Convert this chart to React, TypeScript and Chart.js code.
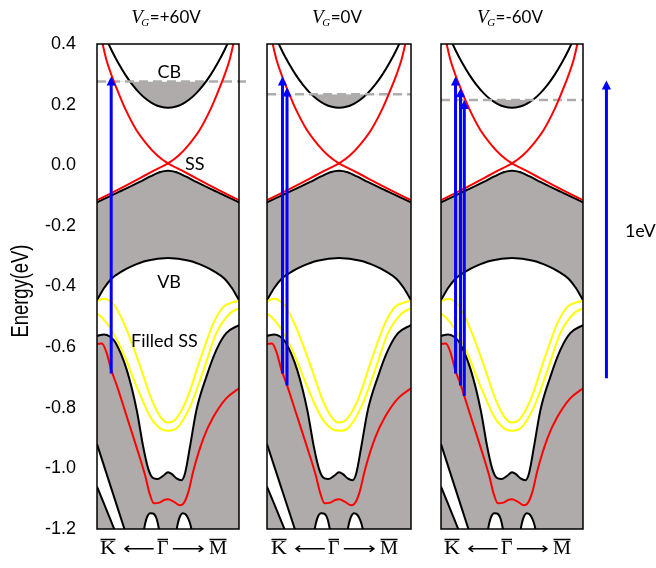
import React, { useEffect, useRef } from "react";
import { Chart, registerables } from "chart.js";

Chart.register(...registerables);
Chart.defaults.font.family = "'Liberation Sans', Arial, sans-serif";
Chart.defaults.color = "#000";

const GRAY = "#AFABAB";
const BLUE = "#0000FF";
const RED = "#FF0000";
const YELLOW = "#FFFF00";
const DASH_GRAY = "#ADADAD";

// energy axis (eV) and momentum axis (K̄ = -1, Γ̄ = 0, M̄ = 1)
const E_MIN = -1.2;
const E_MAX = 0.4;
const yTickValues = [0.4, 0.2, 0.0, -0.2, -0.4, -0.6, -0.8, -1.0, -1.2];
const yTitle = "Energy(eV)";
const yTitleE = -0.415;

// panels
const gateVoltages = ["+60V", "0V", "-60V"];
const fermiLevels = [0.276, 0.234, 0.215];
const fermiLineEnd = [1.12, 1, 1];

// optical transitions per panel
const arrowK = [[-0.8], [-0.785, -0.722], [-0.795, -0.725, -0.672]];
const arrowFrom = [[-0.687], [-0.687, -0.727], [-0.687, -0.727, -0.761]];
const arrowTo = [[0.283], [0.283, 0.247], [0.283, 0.244, 0.205]];
// 1 eV scale arrow
const scaleArrowK = 1.33;
const scaleArrowFrom = -0.703;
const scaleArrowTo = 0.27;

// conduction band
const cbK = [-0.9, -0.8, -0.7, -0.6, -0.5, -0.4, -0.3, -0.2, -0.1, 0, 0.1, 0.2, 0.3, 0.4, 0.5, 0.6, 0.7, 0.8, 0.9];
const cbE = [0.433, 0.382, 0.337, 0.298, 0.265, 0.238, 0.217, 0.202, 0.193, 0.19, 0.193, 0.202, 0.217, 0.238, 0.265, 0.298, 0.337, 0.382, 0.433];

// topological surface state (Dirac cone)
const ss1K = [-0.94, -0.87, -0.8, -0.7, -0.6, -0.45, -0.3, -0.15, 0, 0.2, 0.4, 0.6, 0.8, 1.0];
const ss1E = [0.42, 0.35, 0.3, 0.24, 0.185, 0.118, 0.07, 0.032, 0.006, -0.018, -0.043, -0.068, -0.092, -0.115];
const ss2K = [-1.0, -0.8, -0.6, -0.4, -0.2, 0, 0.15, 0.3, 0.45, 0.6, 0.7, 0.8, 0.87, 0.94];
const ss2E = [-0.115, -0.092, -0.068, -0.043, -0.018, 0.006, 0.032, 0.07, 0.118, 0.185, 0.24, 0.3, 0.35, 0.42];

// valence band top
const vbTopK = [-1, -0.8, -0.6, -0.4, -0.25, -0.12, 0, 0.12, 0.25, 0.4, 0.6, 0.8, 1];
const vbTopE = [-0.122, -0.1, -0.078, -0.055, -0.037, -0.023, -0.018, -0.023, -0.037, -0.055, -0.078, -0.1, -0.122];

// valence band lower edge (dome)
const domeK = [-1, -0.9, -0.8, -0.65, -0.5, -0.3, 0, 0.3, 0.5, 0.65, 0.8, 0.9, 1];
const domeE = [-0.445, -0.405, -0.375, -0.35, -0.332, -0.315, -0.306, -0.315, -0.332, -0.35, -0.375, -0.405, -0.445];

// filled surface states (yellow)
const yelUpK = [-1, -0.94, -0.88, -0.8, -0.74, -0.58, -0.39, -0.21, -0.08, 0, 0.1, 0.26, 0.45, 0.64, 0.78, 0.9, 1];
const yelUpE = [-0.45, -0.442, -0.44, -0.452, -0.467, -0.544, -0.665, -0.785, -0.838, -0.849, -0.84, -0.775, -0.643, -0.521, -0.467, -0.453, -0.447];
const yelLoK = [-1, -0.92, -0.81, -0.63, -0.44, -0.25, -0.11, 0, 0.12, 0.31, 0.5, 0.68, 0.87, 1];
const yelLoE = [-0.489, -0.505, -0.538, -0.62, -0.731, -0.83, -0.868, -0.876, -0.868, -0.797, -0.676, -0.554, -0.489, -0.472];

// lower band edge (W shape)
const lwK = [-1, -0.9, -0.82, -0.74, -0.58, -0.44, -0.35, -0.28, -0.22, -0.15, -0.07, 0, 0.06, 0.12, 0.19, 0.24, 0.31, 0.4, 0.54, 0.68, 0.82, 1];
const lwE = [-0.563, -0.558, -0.565, -0.585, -0.676, -0.808, -0.928, -1.0, -1.03, -1.035, -1.025, -1.013, -1.02, -1.033, -1.039, -1.016, -0.928, -0.808, -0.698, -0.61, -0.554, -0.527];

// lower surface state (red)
const rlK = [-1, -0.93, -0.87, -0.8, -0.72, -0.6, -0.45, -0.32, -0.26, -0.2, -0.12, -0.05, 0, 0.08, 0.17, 0.23, 0.29, 0.36, 0.5, 0.64, 0.82, 1];
const rlE = [-0.59, -0.588, -0.615, -0.675, -0.727, -0.815, -0.925, -1.025, -1.082, -1.115, -1.113, -1.104, -1.102, -1.11, -1.122, -1.112, -1.075, -1.005, -0.9, -0.83, -0.769, -0.736];

// deep bands, lower-left gap
const gapAK = [-1, -0.8, -0.6];
const gapAE = [-0.92, -1.065, -1.21];
const gapBK = [-1, -0.74, -0.6];
const gapBE = [-1.06, -1.21, -1.29];

// deep bands, arches near Γ
const archLK = [-0.345, -0.32, -0.29, -0.25, -0.21, -0.17, -0.145, -0.12];
const archLE = [-1.21, -1.18, -1.158, -1.148, -1.149, -1.16, -1.18, -1.21];
const archRK = [0.115, 0.14, 0.17, 0.21, 0.25, 0.29, 0.315, 0.34];
const archRE = [-1.21, -1.18, -1.158, -1.148, -1.152, -1.168, -1.185, -1.21];

// labels inside the first panel
const bandLabels = ["CB", "SS", "VB", "Filled SS"];
const bandLabelK = [0.02, 0.24, 0.015, -0.05];
const bandLabelE = [0.287, -0.016, -0.406, -0.599];
const bandLabelAlign = ["center", "left", "center", "center"];
const scaleLabel = "1eV";
const scaleLabelK = 1.59;
const scaleLabelE = -0.238;

const kLetters = ["K", "Γ", "M"];
const kArrows = ["⟵", "⟶"];

const toPts = (k: number[], e: number[]) => k.map((x, i) => ({ x, y: e[i] }));

function curve(k: number[], e: number[], color: string, width: number, extra: any = {}) {
  return {
    data: toPts(k, e),
    borderColor: color,
    borderWidth: width,
    pointRadius: 0,
    cubicInterpolationMode: "monotone",
    borderJoinStyle: "round",
    fill: false,
    ...extra,
  };
}

function arrowSet(k: number, from: number, to: number, extra: any = {}) {
  return {
    data: [{ x: k, y: from }, { x: k, y: to }],
    borderColor: BLUE,
    borderWidth: 3,
    borderCapStyle: "butt",
    pointRadius: 0,
    fill: false,
    ...extra,
  };
}

function buildDatasets(p: number) {
  const ds: any[] = [];
  const arrowIdx: number[] = [];
  arrowK[p].forEach((k, i) => {
    arrowIdx.push(ds.length);
    ds.push(arrowSet(k, arrowFrom[p][i], arrowTo[p][i]));
  });
  if (p === 2) {
    arrowIdx.push(ds.length);
    ds.push(arrowSet(scaleArrowK, scaleArrowFrom, scaleArrowTo, { clip: false }));
  }
  ds.push(curve(ss1K, ss1E, RED, 2));
  ds.push(curve(ss2K, ss2E, RED, 2));
  ds.push(curve(rlK, rlE, RED, 2));
  ds.push(curve(yelUpK, yelUpE, YELLOW, 2));
  ds.push(curve(yelLoK, yelLoE, YELLOW, 2));
  ds.push({
    data: [{ x: -1, y: fermiLevels[p] }, { x: fermiLineEnd[p], y: fermiLevels[p] }],
    borderColor: DASH_GRAY,
    borderWidth: 2.5,
    borderDash: [9, 5],
    pointRadius: 0,
    fill: false,
    ...(p === 0 ? { clip: false } : {}),
  });
  ds.push(curve(gapAK, gapAE, "#000", 2, { fill: "+1", backgroundColor: "#FFFFFF" }));
  ds.push(curve(gapBK, gapBE, "#000", 2));
  ds.push(curve(archLK, archLE, "#000", 2, { fill: "start", backgroundColor: "#FFFFFF" }));
  ds.push(curve(archRK, archRE, "#000", 2, { fill: "start", backgroundColor: "#FFFFFF" }));
  ds.push(curve(cbK, cbE, "#000", 2, {
    fill: { target: { value: fermiLevels[p] }, above: "rgba(0,0,0,0)", below: GRAY },
  }));
  ds.push(curve(vbTopK, vbTopE, "#000", 2, { fill: "+1", backgroundColor: GRAY }));
  ds.push(curve(domeK, domeE, "#000", 2));
  ds.push(curve(lwK, lwE, "#000", 2, { fill: "start", backgroundColor: GRAY }));
  return { ds, arrowIdx };
}

function decorPlugin(p: number, arrowIdx: number[]) {
  return {
    id: "decor",
    afterDatasetsDraw(chart: any) {
      const { ctx, chartArea: a, scales } = chart;
      const xs = scales.x;
      const ys = scales.y;
      ctx.save();
      // arrow heads
      ctx.fillStyle = BLUE;
      for (const i of arrowIdx) {
        const pts = chart.getDatasetMeta(i).data;
        const tip = pts[pts.length - 1];
        const tx = tip.x;
        const ty = tip.y - 3;
        ctx.beginPath();
        ctx.moveTo(tx, ty);
        ctx.lineTo(tx - 4.6, ty + 9);
        ctx.lineTo(tx + 4.6, ty + 9);
        ctx.closePath();
        ctx.fill();
      }
      // frame
      ctx.strokeStyle = "#000";
      ctx.lineWidth = 1.5;
      ctx.strokeRect(a.left, a.top, a.right - a.left, a.bottom - a.top);

      const cx = (a.left + a.right) / 2;
      ctx.fillStyle = "#000";
      ctx.textBaseline = "alphabetic";
      ctx.textAlign = "left";

      // title  V_G=...
      const tb = a.top - 20.7;
      ctx.font = "italic 19px 'Liberation Serif', serif";
      const wV = ctx.measureText("V").width;
      ctx.font = "italic 11px 'Liberation Serif', serif";
      const wG = ctx.measureText("G").width;
      ctx.font = "17px Lato, 'Liberation Sans', sans-serif";
      const rest = "=" + gateVoltages[p];
      const wR = ctx.measureText(rest).width;
      const total = wV + wG + wR - 1;
      let x = cx - 2 - total / 2;
      ctx.font = "italic 19px 'Liberation Serif', serif";
      ctx.fillText("V", x, tb);
      x += wV - 1.5;
      ctx.font = "italic 11px 'Liberation Serif', serif";
      ctx.fillText("G", x, tb + 2.5);
      x += wG + 0.5;
      ctx.font = "17px Lato, 'Liberation Sans', sans-serif";
      ctx.fillText(rest, x, tb);

      // bottom label  K̄ ⟵ Γ̄ ⟶ M̄
      const bb = a.bottom + 24.5;
      const letterX = [cx - 68, cx - 11, cx + 41];
      const letterW = [16, 11.5, 18];
      ctx.font = "18px 'Liberation Serif', serif";
      ctx.lineWidth = 1.5;
      kLetters.forEach((L, i) => {
        const w = ctx.measureText(L).width;
        ctx.save();
        ctx.translate(letterX[i], bb);
        ctx.scale(letterW[i] / w, 1);
        ctx.fillText(L, 0, 0);
        ctx.restore();
        ctx.beginPath();
        ctx.moveTo(letterX[i] + 0.5, a.bottom + 10.5);
        ctx.lineTo(letterX[i] + letterW[i] - 0.5, a.bottom + 10.5);
        ctx.stroke();
      });
      const arrowSpan = [[cx - 45, cx - 13], [cx + 3.5, cx + 37]];
      ctx.font = "16px 'DejaVu Sans', sans-serif";
      kArrows.forEach((g, i) => {
        const w = ctx.measureText(g).width;
        ctx.save();
        ctx.translate(arrowSpan[i][0], bb);
        ctx.scale((arrowSpan[i][1] - arrowSpan[i][0]) / w, 1);
        ctx.fillText(g, 0, 0);
        ctx.restore();
      });

      // band labels
      ctx.font = "18px Lato, 'Liberation Sans', sans-serif";
      if (p === 0) {
        bandLabels.forEach((t, i) => {
          ctx.textAlign = bandLabelAlign[i] as CanvasTextAlign;
          ctx.fillText(t, xs.getPixelForValue(bandLabelK[i]), ys.getPixelForValue(bandLabelE[i]));
        });
        // y axis title (condensed, rotated)
        ctx.save();
        ctx.translate(21.2, ys.getPixelForValue(yTitleE));
        ctx.rotate(-Math.PI / 2);
        ctx.scale(0.8, 1);
        ctx.font = "23px 'Liberation Sans', Arial, sans-serif";
        ctx.textAlign = "center";
        ctx.textBaseline = "middle";
        ctx.fillText(yTitle, 0, 0);
        ctx.restore();
      }
      if (p === 2) {
        ctx.textAlign = "left";
        ctx.fillText(scaleLabel, xs.getPixelForValue(scaleLabelK), ys.getPixelForValue(scaleLabelE));
      }
      ctx.restore();
    },
  };
}

function buildConfig(p: number, pad: { left: number; right: number }): any {
  const { ds, arrowIdx } = buildDatasets(p);
  const showY = p === 0;
  return {
    type: "line",
    data: { datasets: ds },
    plugins: [decorPlugin(p, arrowIdx)],
    options: {
      animation: false,
      responsive: false,
      maintainAspectRatio: false,
      devicePixelRatio: 1,
      events: [],
      layout: { padding: { left: pad.left, right: pad.right, top: 44, bottom: 39 } },
      plugins: {
        legend: { display: false },
        tooltip: { enabled: false },
        title: { display: false },
        filler: { propagate: false, drawTime: "beforeDatasetsDraw" },
      },
      scales: {
        x: { type: "linear", min: -1, max: 1, display: false },
        y: {
          type: "linear",
          min: E_MIN,
          max: E_MAX,
          display: showY,
          grid: { display: false, drawTicks: false },
          border: { display: false },
          afterFit: (scale: any) => {
            if (showY) scale.width = 97;
          },
          afterBuildTicks: (scale: any) => {
            scale.ticks = yTickValues.map((v) => ({ value: v }));
          },
          ticks: {
            padding: 21,
            color: "#000",
            font: { size: 18, family: "'Liberation Sans', Arial, sans-serif" },
            callback: (v: number) => (Math.abs(v) < 1e-9 ? "0.0" : Number(v).toFixed(1)),
          },
          title: { display: false },
        },
      },
    },
  };
}

function Panel({ p, left, width, pad }: { p: number; left: number; width: number; pad: { left: number; right: number } }) {
  const ref = useRef<HTMLCanvasElement>(null);
  useEffect(() => {
    const chart = new Chart(ref.current as HTMLCanvasElement, buildConfig(p, pad));
    return () => chart.destroy();
  }, []);
  return (
    <canvas
      ref={ref}
      width={width}
      height={568}
      style={{ position: "absolute", left, top: 0, width, height: 568 }}
    />
  );
}

export default function App() {
  return (
    <div
      style={{
        position: "absolute",
        left: 0,
        top: 0,
        width: 656,
        height: 568,
        background: "#fff",
        overflow: "hidden",
      }}
    >
      <Panel p={0} left={0} width={250} pad={{ left: 0, right: 11 }} />
      <Panel p={1} left={250} width={175} pad={{ left: 17, right: 14 }} />
      <Panel p={2} left={425} width={231} pad={{ left: 16, right: 73 }} />
    </div>
  );
}
